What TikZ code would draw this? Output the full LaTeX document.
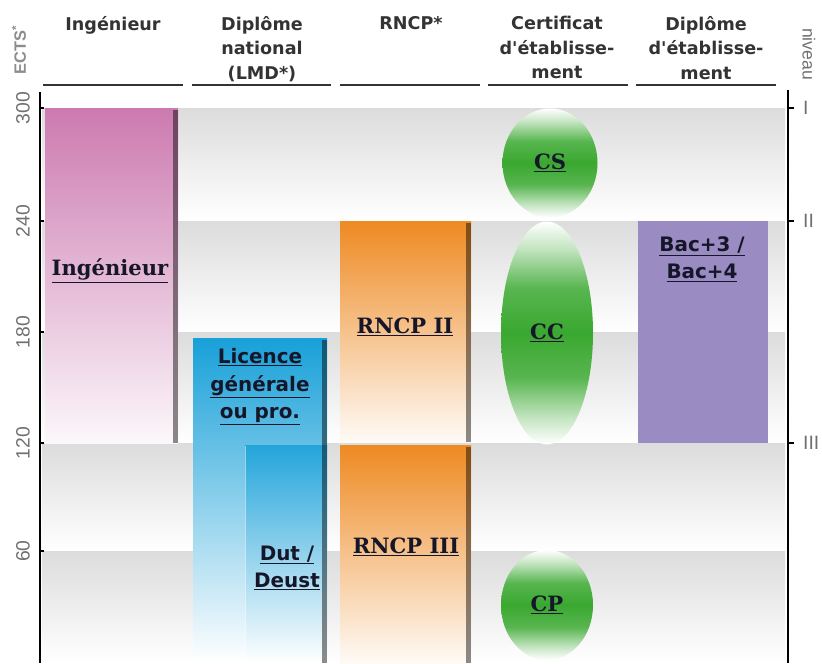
\documentclass[tikz,border=0pt]{standalone}
\usepackage{fontspec}
\setmainfont{DejaVu Sans}
\newfontfamily\verdanafont{DejaVu Sans}
\newfontfamily\serifbold{DejaVu Serif}
\newfontfamily\arialfont{Liberation Sans}
\usetikzlibrary{positioning,shapes.geometric}
\definecolor{headgray}{HTML}{333333}
\definecolor{axisgray}{HTML}{707070}
\definecolor{bandgray}{HTML}{DCDCDC}
\definecolor{ingpink}{HTML}{CC7AB0}
\definecolor{lmdblue}{HTML}{18A0D8}
\definecolor{rncporange}{HTML}{EE8A22}
\definecolor{certgreen}{HTML}{3AA830}
\definecolor{dipurple}{HTML}{9A8CC2}
\definecolor{labelink}{HTML}{16162A}
\pgfdeclareverticalshading{greenfade}{100bp}{color(0bp)=(white); color(25bp)=(white); color(31bp)=(certgreen!30); color(40bp)=(certgreen!85); color(50bp)=(certgreen); color(60bp)=(certgreen!85); color(69bp)=(certgreen!30); color(75bp)=(white); color(100bp)=(white)}
\tikzset{
  colhead/.style={font=\verdanafont\bfseries\fontsize{15}{21}\selectfont,text=headgray,align=center,anchor=north,inner sep=0pt},
  sanslabel/.style={font=\bfseries\fontsize{17}{23.5}\selectfont,text=labelink,align=center,inner sep=0pt},
  seriflabel/.style={font=\serifbold\bfseries\fontsize{18}{23}\selectfont,text=labelink,inner sep=0pt},
  axislabel/.style={font=\arialfont\fontsize{16.5}{18}\selectfont,text=axisgray,inner sep=0pt},
  greenoval/.style={ellipse,inner sep=0pt,shading=greenfade,seriflabel},
  barshadow/.style={fill=black,opacity=.45}
}
\begin{document}
\begin{tikzpicture}[x=0.03cm,y=-0.03cm]
\useasboundingbox (0,0) rectangle (822,663);
% bandes de fond
\foreach \ytop/\ybot in {108/221,221/332,332/443,443/551,551/662}
	\shade [top color=bandgray,bottom color=white] (42,\ytop) rectangle (785,\ybot);
% en-tetes des colonnes
\node (hing) [colhead] at (113,16) {Ingénieur};
\node (hlmd) [colhead] at (262,16) {Diplôme\\national\\(LMD*)};
\node (hrncp) [colhead] at (411,16) {RNCP*};
\node (hcert) [colhead] at (557,16) {Certificat\\d'établisse-\\ment};
\node (hdip) [colhead] at (706,16) {Diplôme\\d'établisse-\\ment};
\foreach \xa/\xb in {43/183,192/331,340/480,488/628,636/776}
	\draw [headgray,line width=1.3pt] (\xa,85) -- (\xb,85);
% barres
\shade [top color=ingpink,bottom color=ingpink!6] (45,108) rectangle (178,443);
\fill [barshadow] (173,110) rectangle (178,443);
\shade [top color=lmdblue,bottom color=white] (193,338) rectangle (327,663);
\shade [top color=lmdblue!95,bottom color=white] (245,445) rectangle (327,663);
\draw [white,opacity=.5] (245,446) -- (245,663);
\fill [barshadow] (322,340) rectangle (327,663);
\shade [top color=rncporange,bottom color=rncporange!4] (340,221) rectangle (471,442);
\fill [barshadow] (466,223) rectangle (471,442);
\shade [top color=rncporange,bottom color=rncporange!4] (340,445) rectangle (471,663);
\fill [barshadow] (466,447) rectangle (471,663);
\fill [dipurple] (638,221) rectangle (768,443);
% textes des barres
\node (ing) [seriflabel] at (110,271) {\underline{Ingénieur}};
\node (lic) [sanslabel] at (260,387) {\underline{Licence}\\\underline{générale}\\\underline{ou pro.}};
\node (dut) [sanslabel] at (287,568) {\underline{Dut /}\\\underline{Deust}};
\node (rncp2) [seriflabel] at (405,327) {\underline{RNCP II}};
\node (rncp3) [seriflabel] at (406,547) {\underline{RNCP III}};
\node (bac) [sanslabel] at (702,259) {\underline{Bac+3 /}\\\underline{Bac+4}};
% certificats
\node (cs) [greenoval,minimum width=95*0.03cm,minimum height=109*0.03cm] at (550,163) {\underline{CS}};
\node (cc) [greenoval,minimum width=92*0.03cm,minimum height=223*0.03cm] at (547,333) {\underline{CC}};
\node (cp) [greenoval,minimum width=92*0.03cm,minimum height=110*0.03cm] at (547,605) {\underline{CP}};
% axes
\draw [line width=1.8pt] (40,92) -- (40,663);
\draw [line width=1.6pt] (788,90) -- (788,663);
\foreach \v/\y in {300/108,240/221,180/332,120/443,60/551} {
	\draw [line width=1.2pt] (40,\y) -- (44,\y);
	\node (ects\v) [axislabel,rotate=90] at (23,\y) {\v};
}
\node (ects) [axislabel,rotate=90,text=axisgray!80,font=\arialfont\bfseries\fontsize{14}{16}\selectfont] at (19,50) {ECTS\textsuperscript{*}};
\foreach \r/\y in {I/108,II/221,III/443} {
	\draw [line width=1.2pt] (788,\y) -- (794,\y);
	\node (niv\r) [axislabel,anchor=west] at (803,\y) {\r};
}
\node (niveau) [axislabel,rotate=-90,font=\arialfont\fontsize{15}{16}\selectfont] at (809,54) {niveau};
\end{tikzpicture}
\end{document}
